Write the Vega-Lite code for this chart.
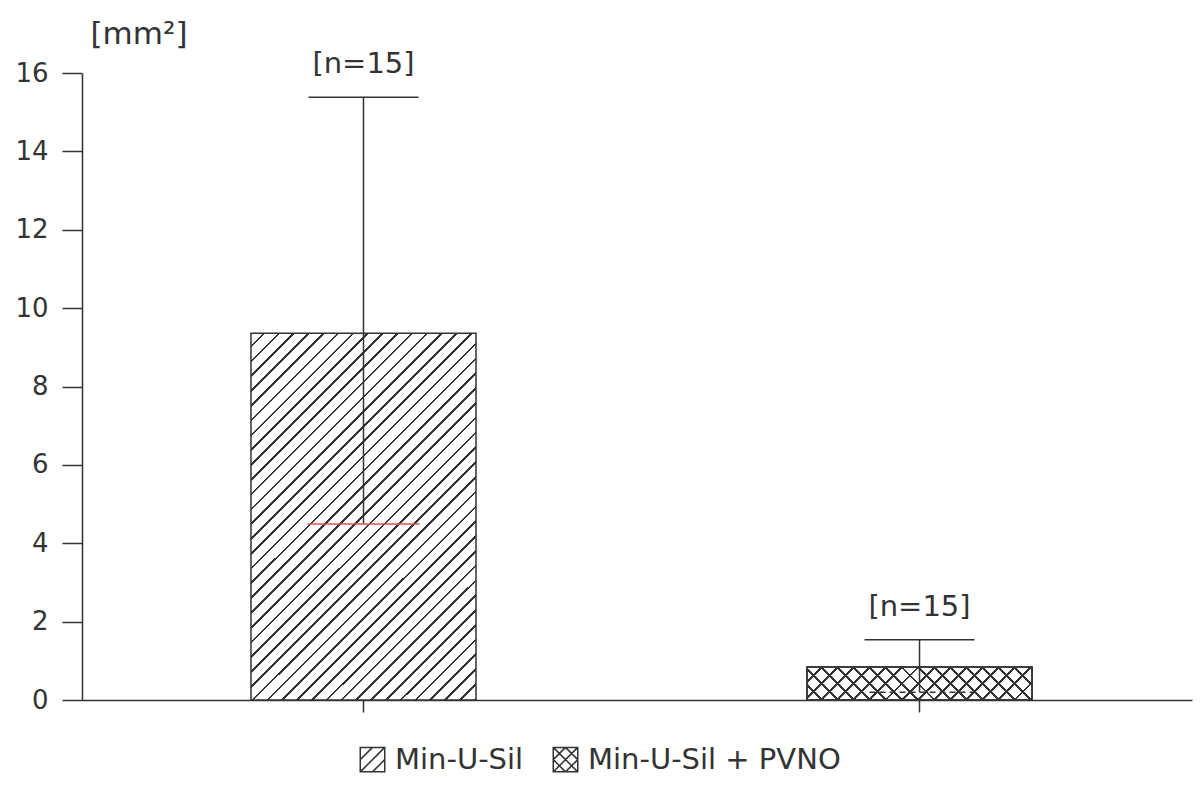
{
  "$schema": "https://vega.github.io/schema/vega-lite/v6.json",
  "autosize": "none",
  "width": 1110,
  "height": 627,
  "padding": {"left": 82, "top": 73, "right": 11, "bottom": 87},
  "background": "white",
  "config": {
    "view": {"stroke": null},
    "font": "DejaVu Sans"
  },
  "data": {
    "values": [
      {"group": "Min-U-Sil", "mean": 9.36, "upper": 15.38, "lower": 4.49, "label": "[n=15]"},
      {"group": "Min-U-Sil + PVNO", "mean": 0.84, "upper": 1.54, "lower": 0.2, "label": "[n=15]"}
    ]
  },
  "encoding": {
    "x": {
      "field": "group",
      "type": "nominal",
      "scale": {"paddingInner": 0.5953, "paddingOuter": 0.2958, "align": 0.5137},
      "axis": {
        "title": null,
        "labels": false,
        "ticks": true,
        "tickSize": 12,
        "tickColor": "#333",
        "tickWidth": 1.5,
        "domainColor": "#333",
        "domainWidth": 1.5,
        "grid": false
      }
    }
  },
  "layer": [
    {
      "mark": {"type": "point", "filled": false, "strokeWidth": 1.5, "size": 100},
      "encoding": {
        "x": {"field": "group", "type": "nominal", "bandPosition": 0.5},
        "y": {"field": "lower", "type": "quantitative"},
        "stroke": {
          "field": "group",
          "type": "nominal",
          "scale": {"domain": ["Min-U-Sil", "Min-U-Sil + PVNO"], "range": ["#333", "#333"]},
          "legend": {
            "orient": "none",
            "legendX": 276,
            "legendY": 672,
            "direction": "horizontal",
            "title": null,
            "padding": 0,
            "labelFont": "DejaVu Sans",
            "labelFontSize": 29,
            "labelColor": "#333",
            "labelLimit": 400,
            "labelOffset": 8,
            "columnPadding": 26,
            "symbolSize": 600,
            "symbolStrokeWidth": 1.5,
            "symbolOpacity": 1
          }
        },
        "shape": {
          "field": "group",
          "type": "nominal",
          "scale": {
            "domain": ["Min-U-Sil", "Min-U-Sil + PVNO"],
            "range": [
              "M-1,-1L1,-1L1,1L-1,1Z M-1,1L1,-1 M-1,0L0,-1 M0,1L1,0",
              "M-1,-1L1,-1L1,1L-1,1Z M-1,1L1,-1 M-1,0L0,-1 M0,1L1,0 M-1,-1L1,1 M-1,0L0,1 M0,-1L1,0"
            ]
          },
          "legend": {
            "orient": "none",
            "legendX": 276,
            "legendY": 672,
            "direction": "horizontal",
            "title": null,
            "padding": 0,
            "labelFont": "DejaVu Sans",
            "labelFontSize": 29,
            "labelColor": "#333",
            "labelLimit": 400,
            "labelOffset": 8,
            "columnPadding": 26,
            "symbolSize": 600,
            "symbolStrokeWidth": 1.5,
            "symbolOpacity": 1
          }
        }
      }
    },
    {
      "transform": [{"filter": "datum.group === 'Min-U-Sil'"}],
      "mark": {
        "type": "bar",
        "strokeWidth": 1.5,
        "stroke": "#333",
        "fill": {
          "gradient": "linear", "x1": 0, "y1": 0, "x2": 0.7188, "y2": 1.1724,
          "stops": [
            {"offset": 0, "color": "#fff"}, {"offset": 0.0205, "color": "#fff"}, {"offset": 0.0205, "color": "#333"}, {"offset": 0.025, "color": "#333"},
            {"offset": 0.025, "color": "#fff"}, {"offset": 0.0455, "color": "#fff"}, {"offset": 0.0455, "color": "#333"}, {"offset": 0.05, "color": "#333"},
            {"offset": 0.05, "color": "#fff"}, {"offset": 0.0705, "color": "#fff"}, {"offset": 0.0705, "color": "#333"}, {"offset": 0.075, "color": "#333"},
            {"offset": 0.075, "color": "#fff"}, {"offset": 0.0955, "color": "#fff"}, {"offset": 0.0955, "color": "#333"}, {"offset": 0.1, "color": "#333"},
            {"offset": 0.1, "color": "#fff"}, {"offset": 0.1205, "color": "#fff"}, {"offset": 0.1205, "color": "#333"}, {"offset": 0.125, "color": "#333"},
            {"offset": 0.125, "color": "#fff"}, {"offset": 0.1455, "color": "#fff"}, {"offset": 0.1455, "color": "#333"}, {"offset": 0.15, "color": "#333"},
            {"offset": 0.15, "color": "#fff"}, {"offset": 0.1705, "color": "#fff"}, {"offset": 0.1705, "color": "#333"}, {"offset": 0.175, "color": "#333"},
            {"offset": 0.175, "color": "#fff"}, {"offset": 0.1955, "color": "#fff"}, {"offset": 0.1955, "color": "#333"}, {"offset": 0.2, "color": "#333"},
            {"offset": 0.2, "color": "#fff"}, {"offset": 0.2205, "color": "#fff"}, {"offset": 0.2205, "color": "#333"}, {"offset": 0.225, "color": "#333"},
            {"offset": 0.225, "color": "#fff"}, {"offset": 0.2455, "color": "#fff"}, {"offset": 0.2455, "color": "#333"}, {"offset": 0.25, "color": "#333"},
            {"offset": 0.25, "color": "#fff"}, {"offset": 0.2705, "color": "#fff"}, {"offset": 0.2705, "color": "#333"}, {"offset": 0.275, "color": "#333"},
            {"offset": 0.275, "color": "#fff"}, {"offset": 0.2955, "color": "#fff"}, {"offset": 0.2955, "color": "#333"}, {"offset": 0.3, "color": "#333"},
            {"offset": 0.3, "color": "#fff"}, {"offset": 0.3205, "color": "#fff"}, {"offset": 0.3205, "color": "#333"}, {"offset": 0.325, "color": "#333"},
            {"offset": 0.325, "color": "#fff"}, {"offset": 0.3455, "color": "#fff"}, {"offset": 0.3455, "color": "#333"}, {"offset": 0.35, "color": "#333"},
            {"offset": 0.35, "color": "#fff"}, {"offset": 0.3705, "color": "#fff"}, {"offset": 0.3705, "color": "#333"}, {"offset": 0.375, "color": "#333"},
            {"offset": 0.375, "color": "#fff"}, {"offset": 0.3955, "color": "#fff"}, {"offset": 0.3955, "color": "#333"}, {"offset": 0.4, "color": "#333"},
            {"offset": 0.4, "color": "#fff"}, {"offset": 0.4205, "color": "#fff"}, {"offset": 0.4205, "color": "#333"}, {"offset": 0.425, "color": "#333"},
            {"offset": 0.425, "color": "#fff"}, {"offset": 0.4455, "color": "#fff"}, {"offset": 0.4455, "color": "#333"}, {"offset": 0.45, "color": "#333"},
            {"offset": 0.45, "color": "#fff"}, {"offset": 0.4705, "color": "#fff"}, {"offset": 0.4705, "color": "#333"}, {"offset": 0.475, "color": "#333"},
            {"offset": 0.475, "color": "#fff"}, {"offset": 0.4955, "color": "#fff"}, {"offset": 0.4955, "color": "#333"}, {"offset": 0.5, "color": "#333"},
            {"offset": 0.5, "color": "#fff"}, {"offset": 0.5205, "color": "#fff"}, {"offset": 0.5205, "color": "#333"}, {"offset": 0.525, "color": "#333"},
            {"offset": 0.525, "color": "#fff"}, {"offset": 0.5455, "color": "#fff"}, {"offset": 0.5455, "color": "#333"}, {"offset": 0.55, "color": "#333"},
            {"offset": 0.55, "color": "#fff"}, {"offset": 0.5705, "color": "#fff"}, {"offset": 0.5705, "color": "#333"}, {"offset": 0.575, "color": "#333"},
            {"offset": 0.575, "color": "#fff"}, {"offset": 0.5955, "color": "#fff"}, {"offset": 0.5955, "color": "#333"}, {"offset": 0.6, "color": "#333"},
            {"offset": 0.6, "color": "#fff"}, {"offset": 0.6205, "color": "#fff"}, {"offset": 0.6205, "color": "#333"}, {"offset": 0.625, "color": "#333"},
            {"offset": 0.625, "color": "#fff"}, {"offset": 0.6455, "color": "#fff"}, {"offset": 0.6455, "color": "#333"}, {"offset": 0.65, "color": "#333"},
            {"offset": 0.65, "color": "#fff"}, {"offset": 0.6705, "color": "#fff"}, {"offset": 0.6705, "color": "#333"}, {"offset": 0.675, "color": "#333"},
            {"offset": 0.675, "color": "#fff"}, {"offset": 0.6955, "color": "#fff"}, {"offset": 0.6955, "color": "#333"}, {"offset": 0.7, "color": "#333"},
            {"offset": 0.7, "color": "#fff"}, {"offset": 0.7205, "color": "#fff"}, {"offset": 0.7205, "color": "#333"}, {"offset": 0.725, "color": "#333"},
            {"offset": 0.725, "color": "#fff"}, {"offset": 0.7455, "color": "#fff"}, {"offset": 0.7455, "color": "#333"}, {"offset": 0.75, "color": "#333"},
            {"offset": 0.75, "color": "#fff"}, {"offset": 0.7705, "color": "#fff"}, {"offset": 0.7705, "color": "#333"}, {"offset": 0.775, "color": "#333"},
            {"offset": 0.775, "color": "#fff"}, {"offset": 0.7955, "color": "#fff"}, {"offset": 0.7955, "color": "#333"}, {"offset": 0.8, "color": "#333"},
            {"offset": 0.8, "color": "#fff"}, {"offset": 0.8205, "color": "#fff"}, {"offset": 0.8205, "color": "#333"}, {"offset": 0.825, "color": "#333"},
            {"offset": 0.825, "color": "#fff"}, {"offset": 0.8455, "color": "#fff"}, {"offset": 0.8455, "color": "#333"}, {"offset": 0.85, "color": "#333"},
            {"offset": 0.85, "color": "#fff"}, {"offset": 0.8705, "color": "#fff"}, {"offset": 0.8705, "color": "#333"}, {"offset": 0.875, "color": "#333"},
            {"offset": 0.875, "color": "#fff"}, {"offset": 0.8955, "color": "#fff"}, {"offset": 0.8955, "color": "#333"}, {"offset": 0.9, "color": "#333"},
            {"offset": 0.9, "color": "#fff"}, {"offset": 0.9205, "color": "#fff"}, {"offset": 0.9205, "color": "#333"}, {"offset": 0.925, "color": "#333"},
            {"offset": 0.925, "color": "#fff"}, {"offset": 0.9455, "color": "#fff"}, {"offset": 0.9455, "color": "#333"}, {"offset": 0.95, "color": "#333"},
            {"offset": 0.95, "color": "#fff"}, {"offset": 0.9705, "color": "#fff"}, {"offset": 0.9705, "color": "#333"}, {"offset": 0.975, "color": "#333"},
            {"offset": 0.975, "color": "#fff"}, {"offset": 0.9955, "color": "#fff"}, {"offset": 0.9955, "color": "#333"}, {"offset": 1, "color": "#333"}
          ]
        }
      },
      "encoding": {
        "y": {
          "field": "mean",
          "type": "quantitative",
          "scale": {"domain": [0, 16], "nice": false, "zero": true},
          "axis": {
            "values": [0, 2, 4, 6, 8, 10, 12, 14, 16],
            "grid": false,
            "tickSize": 20,
            "tickColor": "#333",
            "tickWidth": 1.5,
            "domainColor": "#333",
            "domainWidth": 1.5,
            "labelPadding": 14,
            "labelFont": "DejaVu Sans",
            "labelFontSize": 26,
            "labelColor": "#333",
            "title": "[mm²]",
            "titleAngle": 0,
            "titleAlign": "left",
            "titleBaseline": "alphabetic",
            "titleX": 8,
            "titleY": -30,
            "titleFont": "DejaVu Sans",
            "titleFontSize": 31,
            "titleFontWeight": "normal",
            "titleColor": "#333"
          }
        }
      }
    },
    {
      "transform": [{"filter": "datum.group === 'Min-U-Sil + PVNO'"}],
      "mark": {
        "type": "bar",
        "strokeWidth": 1.5,
        "stroke": "#333",
        "fill": {
          "gradient": "linear", "x1": 0, "y1": 0, "x2": 1.1223, "y2": 0.1641,
          "stops": [
            {"offset": 0, "color": "#fff"}, {"offset": 0.05125, "color": "#fff"}, {"offset": 0.05125, "color": "#333"}, {"offset": 0.0625, "color": "#333"},
            {"offset": 0.0625, "color": "#fff"}, {"offset": 0.11375, "color": "#fff"}, {"offset": 0.11375, "color": "#333"}, {"offset": 0.125, "color": "#333"},
            {"offset": 0.125, "color": "#fff"}, {"offset": 0.17625, "color": "#fff"}, {"offset": 0.17625, "color": "#333"}, {"offset": 0.1875, "color": "#333"},
            {"offset": 0.1875, "color": "#fff"}, {"offset": 0.23875, "color": "#fff"}, {"offset": 0.23875, "color": "#333"}, {"offset": 0.25, "color": "#333"},
            {"offset": 0.25, "color": "#fff"}, {"offset": 0.30125, "color": "#fff"}, {"offset": 0.30125, "color": "#333"}, {"offset": 0.3125, "color": "#333"},
            {"offset": 0.3125, "color": "#fff"}, {"offset": 0.36375, "color": "#fff"}, {"offset": 0.36375, "color": "#333"}, {"offset": 0.375, "color": "#333"},
            {"offset": 0.375, "color": "#fff"}, {"offset": 0.42625, "color": "#fff"}, {"offset": 0.42625, "color": "#333"}, {"offset": 0.4375, "color": "#333"},
            {"offset": 0.4375, "color": "#fff"}, {"offset": 0.48875, "color": "#fff"}, {"offset": 0.48875, "color": "#333"}, {"offset": 0.5, "color": "#333"},
            {"offset": 0.5, "color": "#fff"}, {"offset": 0.55125, "color": "#fff"}, {"offset": 0.55125, "color": "#333"}, {"offset": 0.5625, "color": "#333"},
            {"offset": 0.5625, "color": "#fff"}, {"offset": 0.61375, "color": "#fff"}, {"offset": 0.61375, "color": "#333"}, {"offset": 0.625, "color": "#333"},
            {"offset": 0.625, "color": "#fff"}, {"offset": 0.67625, "color": "#fff"}, {"offset": 0.67625, "color": "#333"}, {"offset": 0.6875, "color": "#333"},
            {"offset": 0.6875, "color": "#fff"}, {"offset": 0.73875, "color": "#fff"}, {"offset": 0.73875, "color": "#333"}, {"offset": 0.75, "color": "#333"},
            {"offset": 0.75, "color": "#fff"}, {"offset": 0.80125, "color": "#fff"}, {"offset": 0.80125, "color": "#333"}, {"offset": 0.8125, "color": "#333"},
            {"offset": 0.8125, "color": "#fff"}, {"offset": 0.86375, "color": "#fff"}, {"offset": 0.86375, "color": "#333"}, {"offset": 0.875, "color": "#333"},
            {"offset": 0.875, "color": "#fff"}, {"offset": 0.92625, "color": "#fff"}, {"offset": 0.92625, "color": "#333"}, {"offset": 0.9375, "color": "#333"},
            {"offset": 0.9375, "color": "#fff"}, {"offset": 0.98875, "color": "#fff"}, {"offset": 0.98875, "color": "#333"}, {"offset": 1, "color": "#333"}
          ]
        }
      },
      "encoding": {
        "y": {"field": "mean", "type": "quantitative"}
      }
    },
    {
      "transform": [{"filter": "datum.group === 'Min-U-Sil + PVNO'"}],
      "mark": {
        "type": "bar",
        "strokeWidth": 1.5,
        "stroke": "#333",
        "fill": {
          "gradient": "linear", "x1": 0, "y1": 1, "x2": 1.1223, "y2": 0.8359,
          "stops": [
            {"offset": 0, "color": "rgba(0,0,0,0)"}, {"offset": 0.05125, "color": "rgba(0,0,0,0)"}, {"offset": 0.05125, "color": "#333"}, {"offset": 0.0625, "color": "#333"},
            {"offset": 0.0625, "color": "rgba(0,0,0,0)"}, {"offset": 0.11375, "color": "rgba(0,0,0,0)"}, {"offset": 0.11375, "color": "#333"}, {"offset": 0.125, "color": "#333"},
            {"offset": 0.125, "color": "rgba(0,0,0,0)"}, {"offset": 0.17625, "color": "rgba(0,0,0,0)"}, {"offset": 0.17625, "color": "#333"}, {"offset": 0.1875, "color": "#333"},
            {"offset": 0.1875, "color": "rgba(0,0,0,0)"}, {"offset": 0.23875, "color": "rgba(0,0,0,0)"}, {"offset": 0.23875, "color": "#333"}, {"offset": 0.25, "color": "#333"},
            {"offset": 0.25, "color": "rgba(0,0,0,0)"}, {"offset": 0.30125, "color": "rgba(0,0,0,0)"}, {"offset": 0.30125, "color": "#333"}, {"offset": 0.3125, "color": "#333"},
            {"offset": 0.3125, "color": "rgba(0,0,0,0)"}, {"offset": 0.36375, "color": "rgba(0,0,0,0)"}, {"offset": 0.36375, "color": "#333"}, {"offset": 0.375, "color": "#333"},
            {"offset": 0.375, "color": "rgba(0,0,0,0)"}, {"offset": 0.42625, "color": "rgba(0,0,0,0)"}, {"offset": 0.42625, "color": "#333"}, {"offset": 0.4375, "color": "#333"},
            {"offset": 0.4375, "color": "rgba(0,0,0,0)"}, {"offset": 0.48875, "color": "rgba(0,0,0,0)"}, {"offset": 0.48875, "color": "#333"}, {"offset": 0.5, "color": "#333"},
            {"offset": 0.5, "color": "rgba(0,0,0,0)"}, {"offset": 0.55125, "color": "rgba(0,0,0,0)"}, {"offset": 0.55125, "color": "#333"}, {"offset": 0.5625, "color": "#333"},
            {"offset": 0.5625, "color": "rgba(0,0,0,0)"}, {"offset": 0.61375, "color": "rgba(0,0,0,0)"}, {"offset": 0.61375, "color": "#333"}, {"offset": 0.625, "color": "#333"},
            {"offset": 0.625, "color": "rgba(0,0,0,0)"}, {"offset": 0.67625, "color": "rgba(0,0,0,0)"}, {"offset": 0.67625, "color": "#333"}, {"offset": 0.6875, "color": "#333"},
            {"offset": 0.6875, "color": "rgba(0,0,0,0)"}, {"offset": 0.73875, "color": "rgba(0,0,0,0)"}, {"offset": 0.73875, "color": "#333"}, {"offset": 0.75, "color": "#333"},
            {"offset": 0.75, "color": "rgba(0,0,0,0)"}, {"offset": 0.80125, "color": "rgba(0,0,0,0)"}, {"offset": 0.80125, "color": "#333"}, {"offset": 0.8125, "color": "#333"},
            {"offset": 0.8125, "color": "rgba(0,0,0,0)"}, {"offset": 0.86375, "color": "rgba(0,0,0,0)"}, {"offset": 0.86375, "color": "#333"}, {"offset": 0.875, "color": "#333"},
            {"offset": 0.875, "color": "rgba(0,0,0,0)"}, {"offset": 0.92625, "color": "rgba(0,0,0,0)"}, {"offset": 0.92625, "color": "#333"}, {"offset": 0.9375, "color": "#333"},
            {"offset": 0.9375, "color": "rgba(0,0,0,0)"}, {"offset": 0.98875, "color": "rgba(0,0,0,0)"}, {"offset": 0.98875, "color": "#333"}, {"offset": 1, "color": "#333"}
          ]
        }
      },
      "encoding": {
        "y": {"field": "mean", "type": "quantitative"}
      }
    },
    {
      "mark": {"type": "rule", "color": "#333", "strokeWidth": 1.5},
      "encoding": {
        "x": {"field": "group", "type": "nominal", "bandPosition": 0.5},
        "y": {"field": "lower", "type": "quantitative"},
        "y2": {"field": "upper"}
      }
    },
    {
      "mark": {"type": "rule", "color": "#333", "strokeWidth": 1.5, "xOffset": -55, "x2Offset": 55},
      "encoding": {
        "x": {"field": "group", "type": "nominal", "bandPosition": 0.5},
        "x2": {"field": "group", "bandPosition": 0.5},
        "y": {"field": "upper", "type": "quantitative"}
      }
    },
    {
      "transform": [{"filter": "datum.group === 'Min-U-Sil'"}],
      "mark": {"type": "rule", "color": "#d9534f", "strokeWidth": 1.5, "xOffset": -56, "x2Offset": 56},
      "encoding": {
        "x": {"field": "group", "type": "nominal", "bandPosition": 0.5},
        "x2": {"field": "group", "bandPosition": 0.5},
        "y": {"field": "lower", "type": "quantitative"}
      }
    },
    {
      "transform": [{"filter": "datum.group === 'Min-U-Sil + PVNO'"}],
      "mark": {"type": "rule", "color": "#333", "strokeWidth": 1.5, "strokeDash": [6, 4], "xOffset": -50, "x2Offset": 55},
      "encoding": {
        "x": {"field": "group", "type": "nominal", "bandPosition": 0.5},
        "x2": {"field": "group", "bandPosition": 0.5},
        "y": {"field": "lower", "type": "quantitative"}
      }
    },
    {
      "mark": {"type": "text", "font": "DejaVu Sans", "fontSize": 29, "color": "#333", "baseline": "alphabetic", "align": "center", "dy": -24},
      "encoding": {
        "x": {"field": "group", "type": "nominal", "bandPosition": 0.5},
        "y": {"field": "upper", "type": "quantitative"},
        "text": {"field": "label"}
      }
    }
  ]
}
